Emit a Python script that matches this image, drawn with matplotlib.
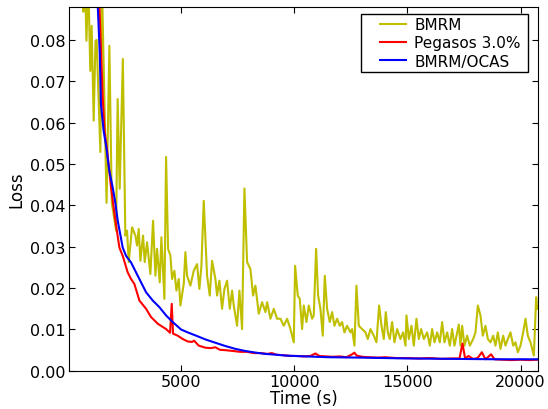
import matplotlib
matplotlib.use('Agg')
import matplotlib.pyplot as plt
from matplotlib.legend_handler import HandlerLine2D

# BMRM (noisy)
t_bmrm = [600, 660, 730, 800, 880, 970, 1030, 1120, 1200, 1250, 1416, 1480, 1690, 1814, 1920,
          2110, 2180, 2270, 2410, 2520, 2596, 2670, 2817, 2965, 3038, 3112, 3186, 3304, 3378,
          3481, 3628, 3746, 3850, 3923, 4041, 4115, 4248, 4322, 4410, 4513, 4587, 4690, 4779,
          4882, 4956, 5103, 5177, 5251, 5398, 5546, 5693, 5796, 5885, 5988, 6136, 6254, 6357,
          6504, 6578, 6681, 6799, 6903, 7021, 7139, 7242, 7316, 7463, 7566, 7684, 7788, 7906,
          8053, 8171, 8274, 8422, 8569, 8717, 8791, 8938, 9086, 9233, 9381, 9528, 9676, 9823,
          9971, 10030, 10147, 10236, 10339, 10413, 10531, 10634, 10782, 10855, 10959, 11047,
          11150, 11254, 11342, 11445, 11563, 11667, 11770, 11888, 12006, 12109, 12212, 12330,
          12478, 12552, 12655, 12743, 12847, 12994, 13142, 13245, 13363, 13510, 13628, 13746,
          13850, 13953, 14041, 14130, 14218, 14322, 14425, 14543, 14690, 14808, 14912, 14956,
          15059, 15177, 15280, 15398, 15501, 15605, 15723, 15870, 15988, 16091, 16195, 16313,
          16431, 16534, 16637, 16755, 16873, 16976, 17080, 17198, 17271, 17345, 17419, 17522,
          17640, 17758, 17906, 18009, 18112, 18230, 18333, 18451, 18555, 18673, 18791, 18894,
          18997, 19115, 19233, 19336, 19440, 19558, 19676, 19779, 19882, 20000, 20118, 20221,
          20324, 20442, 20590, 20693, 20737]
loss_bmrm = [0.095, 0.0868, 0.095, 0.0798, 0.095, 0.0725, 0.0834, 0.0605, 0.0798, 0.0800, 0.0529, 0.095, 0.0406, 0.0786, 0.0407,
             0.0339, 0.0657, 0.0440, 0.0754, 0.0327, 0.0339, 0.0263, 0.0347, 0.0327, 0.0303, 0.0343, 0.0266, 0.0327, 0.0263,
             0.0311, 0.0234, 0.0363, 0.0230, 0.0295, 0.0214, 0.0323, 0.0174, 0.0517, 0.0295, 0.0279, 0.0222, 0.0242, 0.0194,
             0.0222, 0.0158, 0.0210, 0.0287, 0.0230, 0.0206, 0.0242, 0.0258, 0.0198, 0.0254, 0.0411, 0.0230, 0.0182, 0.0266,
             0.0222, 0.0182, 0.0218, 0.0150, 0.0198, 0.0218, 0.0150, 0.0194, 0.0158, 0.0109, 0.0194, 0.0101, 0.0441, 0.0263,
             0.0246, 0.0182, 0.0206, 0.0138, 0.0166, 0.0142, 0.0166, 0.0126, 0.0150, 0.0126, 0.0126, 0.0109, 0.0126, 0.0101,
             0.0069, 0.0254, 0.0182, 0.0174, 0.0101, 0.0158, 0.0118, 0.0158, 0.0126, 0.0134, 0.0295, 0.0182,
             0.0150, 0.0085, 0.0230, 0.0150, 0.0118, 0.0142, 0.0109, 0.0126, 0.0109, 0.0118, 0.0093, 0.0109,
             0.0093, 0.0101, 0.0061, 0.0206, 0.0109, 0.0101, 0.0093, 0.0077, 0.0101, 0.0085, 0.0069, 0.0158,
             0.0109, 0.0077, 0.0142, 0.0093, 0.0077, 0.0118, 0.0069, 0.0101, 0.0077, 0.0093, 0.0061, 0.0134,
             0.0077, 0.0109, 0.0061, 0.0126, 0.0077, 0.0101, 0.0077, 0.0093, 0.0061, 0.0101, 0.0069, 0.0093,
             0.0069, 0.0118, 0.0069, 0.0093, 0.0061, 0.0101, 0.0061, 0.0093, 0.0112, 0.0061, 0.0109, 0.0061,
             0.0085, 0.0061, 0.0077, 0.0093, 0.0158, 0.0134, 0.0085, 0.0109, 0.0077, 0.0069, 0.0085, 0.0061,
             0.0093, 0.0053, 0.0085, 0.0061, 0.0077, 0.0093, 0.0061, 0.0069, 0.0045, 0.0061, 0.0093, 0.0126,
             0.0085, 0.0069, 0.0037, 0.0178, 0.0150]

# Pegasos 3.0%
t_peg = [1200, 1372, 1450, 1520, 1600, 1720, 1888, 2080, 2257, 2404, 2625, 2773, 2920, 3142, 3437,
         3658, 3953, 4322, 4498, 4572, 4630, 4838, 5058, 5280, 5472, 5560, 5767, 6062, 6300, 6504,
         6700, 6947, 7300, 7600, 7900, 8200, 8500, 8800, 9000, 9200, 9500, 9800, 10100, 10400,
         10700, 10930, 11100, 11400, 11700, 12000, 12300, 12550, 12650, 12750, 13000, 13300, 13700,
         14000, 14500, 15000, 15500, 16000, 16500, 17000, 17300, 17434, 17550, 17700, 17900, 18100,
         18290, 18450, 18700, 18850, 19200, 19600, 20000, 20400, 20750]
loss_peg = [0.105, 0.0886, 0.0766, 0.066, 0.058, 0.053, 0.0443, 0.0363, 0.0298, 0.0278, 0.0238, 0.0222, 0.0210, 0.0170, 0.0150,
            0.0130, 0.0114, 0.0101, 0.0092, 0.0162, 0.0090, 0.0085, 0.0077, 0.0071, 0.0070, 0.0073, 0.0061, 0.0056, 0.0055, 0.0057,
            0.0051, 0.0050, 0.0048, 0.0046, 0.0046, 0.0043, 0.0043, 0.0041, 0.0043, 0.0039, 0.0038, 0.0036, 0.0036, 0.0035,
            0.0036, 0.0042, 0.0036, 0.0035, 0.0034, 0.0035, 0.0033, 0.0040, 0.0044, 0.0037, 0.0034, 0.0033, 0.0032,
            0.0033, 0.0031, 0.0031, 0.0030, 0.0031, 0.0029, 0.0030, 0.0030, 0.0066, 0.0030, 0.0036, 0.0029, 0.0031,
            0.0045, 0.0028, 0.0040, 0.0028, 0.0027, 0.0026, 0.0027, 0.0026, 0.0027]

# BMRM/OCAS
t_ocas = [1200, 1297, 1390, 1440, 1560, 1680, 1810, 1962, 2080, 2183, 2404, 2552, 2773, 2994, 3215,
          3437, 3732, 4026, 4322, 4616, 4985, 5280, 5700, 6062, 6500, 6947, 7400, 7832, 8300, 8717,
          9200, 9602, 10487, 11500, 13000, 15000, 17000, 19000, 20750]
loss_ocas = [0.105, 0.0886, 0.0766, 0.0645, 0.058, 0.054, 0.0484, 0.0443, 0.0405, 0.0363, 0.0298, 0.0278, 0.0262, 0.0238, 0.0214,
             0.0190, 0.0170, 0.0154, 0.0134, 0.0118, 0.0100, 0.0093, 0.0084, 0.0076, 0.0068, 0.0060, 0.0053, 0.0048, 0.0044, 0.0041,
             0.0039, 0.0037, 0.0035, 0.0033, 0.0032, 0.0030, 0.0029, 0.0028, 0.0028]

plt.rcParams['font.family'] = 'DejaVu Sans'
plt.rcParams['xtick.direction'] = 'in'
plt.rcParams['ytick.direction'] = 'in'
plt.rcParams['xtick.top'] = True
plt.rcParams['ytick.right'] = True
plt.rcParams['xtick.major.size'] = 4
plt.rcParams['ytick.major.size'] = 4
plt.rcParams['xtick.major.pad'] = 2
plt.rcParams['ytick.major.pad'] = 2.5
plt.rcParams['xtick.labelsize'] = 11.5
plt.rcParams['ytick.labelsize'] = 11.5
plt.rcParams['axes.labelsize'] = 12

fig = plt.figure(figsize=(5.48, 4.10), dpi=100)
ax = fig.add_axes([0.126, 0.093, 0.856, 0.888])

ax.plot(t_bmrm, loss_bmrm, color=(0.75, 0.75, 0), lw=1.5, label='BMRM')
ax.plot(t_peg, loss_peg, color='r', lw=1.5, label='Pegasos 3.0%')
ax.plot(t_ocas, loss_ocas, color='b', lw=1.5, label='BMRM/OCAS')

ax.set_xlim(30, 20780)
ax.set_ylim(0, 0.088)
ax.set_xticks([5000, 10000, 15000, 20000])
ax.set_yticks([0.0, 0.01, 0.02, 0.03, 0.04, 0.05, 0.06, 0.07, 0.08])
ax.set_yticklabels(['0.00', '0.01', '0.02', '0.03', '0.04', '0.05', '0.06', '0.07', '0.08'])
ax.set_xlabel('Time (s)', labelpad=0)
ax.set_ylabel('Loss', labelpad=3)

hm = {l: HandlerLine2D(xpad=1.0) for l in ax.get_lines()}
leg = ax.legend(loc='upper right', bbox_to_anchor=(0.6226, 0, 0.356, 0.981), mode='expand',
                fancybox=False, framealpha=1, edgecolor='k', fontsize=11,
                borderpad=0.22, labelspacing=0.22, handlelength=2.7, handletextpad=0.55,
                borderaxespad=0, handler_map=hm)
leg.get_frame().set_linewidth(1.0)

plt.savefig('out.png', dpi=100)
